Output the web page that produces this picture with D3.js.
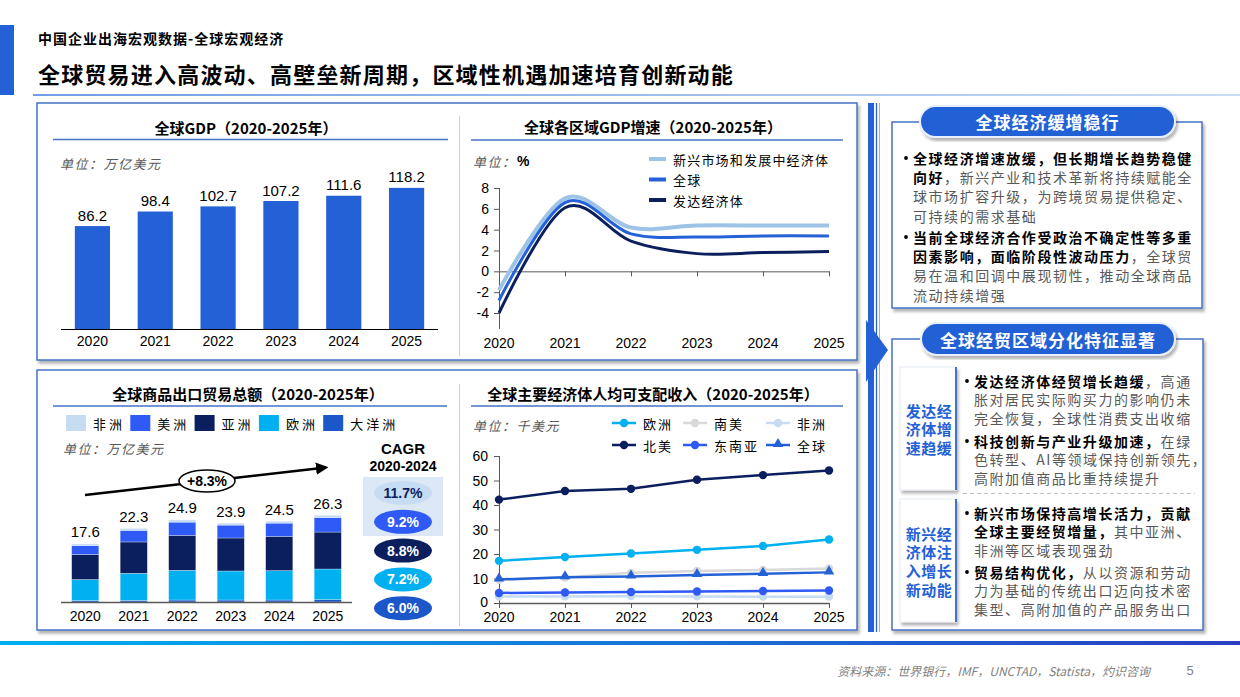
<!DOCTYPE html>
<html>
<head>
<meta charset="utf-8">
<script src="https://cdn.jsdelivr.net/npm/d3@7"></script>
<style>
	body { margin: 0; background: #fff; }
	svg { display: block; font-family: "Noto Sans CJK SC", "Liberation Sans", sans-serif; }
</style>
</head>
<body>
<div id="chart"></div>
<script>
/* global d3 */

// Data
var years = ['2020', '2021', '2022', '2023', '2024', '2025'];

var gdpValues = [86.2, 98.4, 102.7, 107.2, 111.6, 118.2];

var growthLabels = ['新兴市场和发展中经济体', '全球', '发达经济体'];
var growthEmerging = [-1.8, 7.0, 4.2, 4.4, 4.4, 4.4];
var growthGlobal = [-2.8, 6.6, 3.6, 3.3, 3.4, 3.4];
var growthAdvanced = [-4.0, 6.1, 2.9, 1.7, 1.8, 1.9];
var growthTicks = [-4, -2, 0, 2, 4, 6, 8];

var tradeKeys = ['africa', 'americas', 'asia', 'europe', 'oceania'];
var tradeLabels = ['非洲', '美洲', '亚洲', '欧洲', '大洋洲'];
var tradeAfrica = [0.5, 0.6, 0.7, 0.6, 0.6, 0.7];
var tradeAmericas = [2.7, 3.5, 4.0, 3.9, 4.0, 4.4];
var tradeAsia = [7.6, 9.5, 10.6, 10.0, 10.4, 11.2];
var tradeEurope = [6.4, 8.2, 9.0, 8.8, 8.9, 9.3];
var tradeOceania = [0.4, 0.5, 0.6, 0.6, 0.6, 0.7];
var tradeTotals = [17.6, 22.3, 24.9, 23.9, 24.5, 26.3];
var tradeCagr = ['11.7%', '9.2%', '8.8%', '7.2%', '6.0%'];
var tradeTrend = '+8.3%';

var incomeLabels = ['欧洲', '南美', '非洲', '北美', '东南亚', '全球'];
var incomeEurope = [17.2, 18.8, 20.2, 21.7, 23.3, 25.9];
var incomeSouthAmerica = [9.5, 10.4, 12.3, 13.1, 13.5, 14.1];
var incomeAfrica = [2.7, 2.7, 2.8, 2.7, 2.6, 2.6];
var incomeNorthAmerica = [42.2, 45.7, 46.6, 50.3, 52.2, 54.1];
var incomeSeAsia = [4.1, 4.3, 4.5, 4.7, 4.9, 5.1];
var incomeGlobal = [9.6, 10.5, 10.8, 11.4, 11.9, 12.5];
var incomeTicks = [0, 10, 20, 30, 40, 50, 60];

var box1Text = [
	{ y: 158, lines: [
		[['全球经济增速放缓，但长期增长趋势稳健', true]],
		[['向好', true], ['，新兴产业和技术革新将持续赋能全', false]],
		[['球市场扩容升级，为跨境贸易提供稳定、', false]],
		[['可持续的需求基础', false]]
	] },
	{ y: 237, lines: [
		[['当前全球经济合作受政治不确定性等多重', true]],
		[['因素影响，面临阶段性波动压力', true], ['，全球贸', false]],
		[['易在温和回调中展现韧性，推动全球商品', false]],
		[['流动持续增强', false]]
	] }
];

var box2Text = [
	{ y: 381, lines: [
		[['发达经济体经贸增长趋缓', true], ['，高通', false]],
		[['胀对居民实际购买力的影响仍未', false]],
		[['完全恢复，全球性消费支出收缩', false]]
	] },
	{ y: 441, lines: [
		[['科技创新与产业升级加速，', true], ['在绿', false]],
		[['色转型、AI等领域保持创新领先，', false]],
		[['高附加值商品比重持续提升', false]]
	] },
	{ y: 513, lines: [
		[['新兴市场保持高增长活力，贡献', true]],
		[['全球主要经贸增量，', true], ['其中亚洲、', false]],
		[['非洲等区域表现强劲', false]]
	] },
	{ y: 572, lines: [
		[['贸易结构优化，', true], ['从以资源和劳动', false]],
		[['力为基础的传统出口迈向技术密', false]],
		[['集型、高附加值的产品服务出口', false]]
	] }
];

var sideLabels = [
	{ y: 410, lines: ['发达经', '济体增', '速趋缓'] },
	{ y: 533, lines: ['新兴经', '济体注', '入增长', '新动能'] }
];

// Styles
var col = {
	blue: '#2461d6',
	navy: '#0b1f5e',
	sky: '#9dc3e6',
	cyan: '#00b0f0',
	bright: '#2f5af5',
	pale: '#c5dcf2',
	gray: '#d9d9d9',
	ocean: '#1c57c9',
	frame: '#4472c4',
	axis: '#595959',
	text: '#595959'
};
var numFont = '"Liberation Sans", Arial, sans-serif';

var svg = d3.select('#chart').append('svg')
	.attr('width', 1240)
	.attr('height', 697);

var defs = svg.append('defs');
defs.append('filter')
	.attr('id', 'shadow')
	.attr('x', '-10%').attr('y', '-10%')
	.attr('width', '125%').attr('height', '125%')
	.append('feDropShadow')
	.attr('dx', 2).attr('dy', 3)
	.attr('stdDeviation', 1.5)
	.attr('flood-color', '#000')
	.attr('flood-opacity', 0.3);

var gHead = defs.append('linearGradient').attr('id', 'headLine');
gHead.append('stop').attr('offset', '0%').attr('stop-color', '#6f9ee8');
gHead.append('stop').attr('offset', '100%').attr('stop-color', '#c9dbf4');

var gFoot = defs.append('linearGradient').attr('id', 'footLine');
gFoot.append('stop').attr('offset', '0%').attr('stop-color', '#00b0f0');
gFoot.append('stop').attr('offset', '100%').attr('stop-color', '#2b3ec2');

defs.append('marker')
	.attr('id', 'arrowHead')
	.attr('viewBox', '0 0 10 10')
	.attr('refX', 8).attr('refY', 5)
	.attr('markerWidth', 5).attr('markerHeight', 5)
	.attr('orient', 'auto')
	.append('path')
	.attr('d', 'M0,0 L10,5 L0,10 z')
	.attr('fill', '#000');

function label(g, x, y, str, o) {
	o = o || {};
	return g.append('text')
		.attr('x', x)
		.attr('y', y)
		.attr('dominant-baseline', 'central')
		.attr('text-anchor', o.anchor || 'start')
		.attr('font-size', o.size || 14)
		.attr('font-weight', o.weight || 'normal')
		.attr('font-style', o.style || 'normal')
		.attr('font-family', o.family || null)
		.attr('letter-spacing', o.ls || 0)
		.attr('fill', o.fill || '#000')
		.text(str);
}

function panelTitle(cx, cy, str, x1, x2, lineY) {
	label(svg, cx, cy, str, { anchor: 'middle', size: 15, weight: 'bold' });
	svg.append('line')
		.attr('x1', x1).attr('x2', x2)
		.attr('y1', lineY).attr('y2', lineY)
		.attr('stroke', col.frame)
		.attr('stroke-width', 1.5);
}

function unitLabel(x, y, str) {
	label(svg, x, y, str, { size: 13, style: 'italic', fill: '#595959', ls: 1.5 });
}

// Header
svg.append('rect').attr('x', 0).attr('y', 25).attr('width', 14).attr('height', 70).attr('fill', col.blue);
label(svg, 38, 38, '中国企业出海宏观数据-全球宏观经济', { size: 14, weight: 'bold', ls: 1 });
label(svg, 38, 73, '全球贸易进入高波动、高壁垒新周期，区域性机遇加速培育创新动能', { size: 22, weight: 'bold', ls: 1.2 });
svg.append('rect').attr('x', 33).attr('y', 94).attr('width', 1207).attr('height', 2).attr('fill', 'url(#headLine)');

// Panel frames
[[37, 103, 820, 257], [37, 370, 820, 260]].forEach(function(p) {
	svg.append('rect')
		.attr('x', p[0]).attr('y', p[1])
		.attr('width', p[2]).attr('height', p[3])
		.attr('fill', '#fff')
		.attr('stroke', col.frame)
		.attr('stroke-width', 1.5)
		.attr('filter', 'url(#shadow)');
});
[[116, 356], [384, 626]].forEach(function(s) {
	svg.append('line')
		.attr('x1', 459.5).attr('x2', 459.5)
		.attr('y1', s[0]).attr('y2', s[1])
		.attr('stroke', '#d0d0d0');
});

// ---- Global GDP bars
panelTitle(246, 127, '全球GDP（2020-2025年）', 53, 448, 139.5);
unitLabel(60, 163, '单位：万亿美元');

var gdpX = d3.scaleBand().domain(years).range([61, 438]).paddingInner(0.44).paddingOuter(0.22);
var gdpY = d3.scaleLinear().domain([0, 140]).range([329, 329 - 140 * 1.194]);
var gGdp = svg.append('g');

gGdp.selectAll('rect').data(gdpValues).enter().append('rect')
	.attr('x', function(d, i) { return gdpX(years[i]); })
	.attr('y', function(d) { return gdpY(d); })
	.attr('width', gdpX.bandwidth())
	.attr('height', function(d) { return gdpY(0) - gdpY(d); })
	.attr('fill', col.blue);

gGdp.selectAll('text.val').data(gdpValues).enter().append('text')
	.attr('class', 'val')
	.attr('x', function(d, i) { return gdpX(years[i]) + gdpX.bandwidth() / 2; })
	.attr('y', function(d) { return gdpY(d) - 11; })
	.attr('dominant-baseline', 'central')
	.attr('text-anchor', 'middle')
	.attr('font-family', numFont)
	.attr('font-size', 15)
	.text(function(d) { return d.toFixed(1); });

gGdp.append('line')
	.attr('x1', 61).attr('x2', 438)
	.attr('y1', gdpY(0) + 0.5).attr('y2', gdpY(0) + 0.5)
	.attr('stroke', '#000');

years.forEach(function(y) {
	label(gGdp, gdpX(y) + gdpX.bandwidth() / 2, 341, y, { anchor: 'middle', family: numFont, size: 14 });
});

// ---- GDP growth lines
panelTitle(653, 126, '全球各区域GDP增速（2020-2025年）', 471, 843, 140);
unitLabel(473, 161, '单位：');
label(svg, 517, 161, '%', { size: 14, family: numFont, weight: 'bold' });

var grX = d3.scalePoint().domain(years).range([499, 829]);
var grY = d3.scaleLinear().domain([-4, 8]).range([313, 188]);
var gGrowth = svg.append('g');

gGrowth.append('line')
	.attr('x1', 499.5).attr('x2', 499.5)
	.attr('y1', grY(8)).attr('y2', 329)
	.attr('stroke', col.axis);
growthTicks.forEach(function(t) {
	gGrowth.append('line')
		.attr('x1', 494).attr('x2', 499.5)
		.attr('y1', grY(t) + 0.5).attr('y2', grY(t) + 0.5)
		.attr('stroke', col.axis);
	label(gGrowth, 489, grY(t), String(t), { anchor: 'end', family: numFont, size: 14 });
});
gGrowth.append('line')
	.attr('x1', 499).attr('x2', 829.5)
	.attr('y1', grY(0) + 0.5).attr('y2', grY(0) + 0.5)
	.attr('stroke', col.axis);
years.forEach(function(y) {
	gGrowth.append('line')
		.attr('x1', grX(y) + 0.5).attr('x2', grX(y) + 0.5)
		.attr('y1', grY(0)).attr('y2', grY(0) + 5)
		.attr('stroke', col.axis);
	label(gGrowth, grX(y), 343, y, { anchor: 'middle', family: numFont, size: 14 });
});

var growthLine = d3.line()
	.x(function(d, i) { return grX(years[i]); })
	.y(function(d) { return grY(d); })
	.curve(d3.curveCatmullRom.alpha(0));

[[growthEmerging, col.sky, 4], [growthGlobal, col.blue, 3], [growthAdvanced, col.navy, 3]].forEach(function(s, i) {
	gGrowth.append('path')
		.attr('d', growthLine(s[0]))
		.attr('fill', 'none')
		.attr('stroke', s[1])
		.attr('stroke-width', s[2]);
	var ly = 159 + i * 20.5;
	gGrowth.append('line')
		.attr('x1', 649).attr('x2', 666)
		.attr('y1', ly).attr('y2', ly)
		.attr('stroke', s[1])
		.attr('stroke-width', 4);
	label(gGrowth, 673, ly, growthLabels[i], { size: 13, ls: 1.2 });
});

// ---- Trade stacked bars
panelTitle(248, 393, '全球商品出口贸易总额（2020-2025年）', 53, 447, 406);

var tradeColors = d3.scaleOrdinal()
	.domain(tradeKeys)
	.range([col.pale, col.bright, col.navy, col.cyan, col.ocean]);

tradeKeys.forEach(function(k, i) {
	var lx = 66 + i * 64.3;
	svg.append('rect')
		.attr('x', lx).attr('y', 415)
		.attr('width', 20).attr('height', 16)
		.attr('fill', tradeColors(k));
	label(svg, lx + 27, 423, tradeLabels[i], { size: 13, ls: 3 });
});
unitLabel(63, 448, '单位：万亿美元');

var tradeRows = years.map(function(y, i) {
	return {
		year: y,
		africa: tradeAfrica[i],
		americas: tradeAmericas[i],
		asia: tradeAsia[i],
		europe: tradeEurope[i],
		oceania: tradeOceania[i]
	};
});
var tradeSeries = d3.stack().keys(['oceania', 'europe', 'asia', 'americas', 'africa'])(tradeRows);

var trX = d3.scaleBand().domain(years).range([61, 352]).paddingInner(0.44).paddingOuter(0.22);
var trY = d3.scaleLinear().domain([0, 30]).range([602, 503]);
var gTrade = svg.append('g');

gTrade.selectAll('g.series').data(tradeSeries).enter().append('g')
	.attr('class', 'series')
	.attr('fill', function(d) { return tradeColors(d.key); })
	.selectAll('rect').data(function(d) { return d; }).enter().append('rect')
	.attr('x', function(d) { return trX(d.data.year); })
	.attr('y', function(d) { return trY(d[1]); })
	.attr('width', trX.bandwidth())
	.attr('height', function(d) { return trY(d[0]) - trY(d[1]); })
	.attr('stroke', '#fff')
	.attr('stroke-opacity', 0.5)
	.attr('stroke-width', 0.6);

tradeTotals.forEach(function(v, i) {
	label(gTrade, trX(years[i]) + trX.bandwidth() / 2, trY(v) - 12, v.toFixed(1), { anchor: 'middle', family: numFont, size: 15 });
	label(gTrade, trX(years[i]) + trX.bandwidth() / 2, 616, years[i], { anchor: 'middle', family: numFont, size: 14 });
});
gTrade.append('line')
	.attr('x1', 61).attr('x2', 352)
	.attr('y1', trY(0) + 0.5).attr('y2', trY(0) + 0.5)
	.attr('stroke', col.axis)
	.attr('stroke-width', 1.5);

// trend arrow
gTrade.append('line')
	.attr('x1', 85).attr('y1', 495)
	.attr('x2', 326).attr('y2', 467.5)
	.attr('stroke', '#000')
	.attr('stroke-width', 2.5)
	.attr('marker-end', 'url(#arrowHead)');
gTrade.append('ellipse')
	.attr('cx', 207).attr('cy', 481)
	.attr('rx', 28).attr('ry', 11)
	.attr('fill', '#fff')
	.attr('stroke', '#000')
	.attr('stroke-width', 1.5);
label(gTrade, 207, 481, tradeTrend, { anchor: 'middle', family: numFont, size: 14, weight: 'bold' });

// CAGR column
label(gTrade, 403, 448, 'CAGR', { anchor: 'middle', family: numFont, size: 15, weight: 'bold' });
label(gTrade, 403, 466, '2020-2024', { anchor: 'middle', family: numFont, size: 14, weight: 'bold' });
gTrade.append('rect')
	.attr('x', 363).attr('y', 477)
	.attr('width', 80).attr('height', 59)
	.attr('fill', '#dce8f6');
tradeCagr.forEach(function(c, i) {
	var cy = 493 + i * 28.8;
	gTrade.append('ellipse')
		.attr('cx', 403).attr('cy', cy)
		.attr('rx', 29).attr('ry', 12)
		.attr('fill', tradeColors(tradeKeys[i]));
	label(gTrade, 403, cy, c, {
		anchor: 'middle', family: numFont, size: 14, weight: 'bold',
		fill: i === 0 ? '#0b1f5e' : '#fff'
	});
});

// ---- Disposable income lines
panelTitle(653, 393, '全球主要经济体人均可支配收入（2020-2025年）', 471, 843, 406);
unitLabel(473, 425, '单位：千美元');

var inX = d3.scalePoint().domain(years).range([499, 829]);
var inY = d3.scaleLinear().domain([0, 60]).range([603, 456]);
var gIncome = svg.append('g');

gIncome.append('line')
	.attr('x1', 499.5).attr('x2', 499.5)
	.attr('y1', inY(60)).attr('y2', inY(0))
	.attr('stroke', col.axis);
incomeTicks.forEach(function(t) {
	gIncome.append('line')
		.attr('x1', 494).attr('x2', 499.5)
		.attr('y1', inY(t) + 0.5).attr('y2', inY(t) + 0.5)
		.attr('stroke', col.axis);
	label(gIncome, 488, inY(t) - (t === 0 ? 1.5 : 0), String(t), { anchor: 'end', family: numFont, size: 14 });
});
gIncome.append('line')
	.attr('x1', 499).attr('x2', 829.5)
	.attr('y1', inY(0) + 0.5).attr('y2', inY(0) + 0.5)
	.attr('stroke', col.axis)
	.attr('stroke-width', 1.5);
years.forEach(function(y) {
	gIncome.append('line')
		.attr('x1', inX(y) + 0.5).attr('x2', inX(y) + 0.5)
		.attr('y1', inY(0)).attr('y2', inY(0) + 5)
		.attr('stroke', col.axis);
	label(gIncome, inX(y), 617, y, { anchor: 'middle', family: numFont, size: 14 });
});

var incomeSeries = [
	{ name: incomeLabels[2], values: incomeAfrica, color: col.pale, mark: 'circle' },
	{ name: incomeLabels[1], values: incomeSouthAmerica, color: col.gray, mark: 'circle' },
	{ name: incomeLabels[4], values: incomeSeAsia, color: col.bright, mark: 'circle' },
	{ name: incomeLabels[5], values: incomeGlobal, color: col.blue, mark: 'triangle' },
	{ name: incomeLabels[0], values: incomeEurope, color: col.cyan, mark: 'circle' },
	{ name: incomeLabels[3], values: incomeNorthAmerica, color: col.navy, mark: 'circle' }
];
var incomeLine = d3.line()
	.x(function(d, i) { return inX(years[i]); })
	.y(function(d) { return inY(d); });
var triangle = d3.symbol().type(d3.symbolTriangle).size(48);

function drawMark(g, s, x, y) {
	if (s.mark === 'triangle') {
		g.append('path')
			.attr('d', triangle())
			.attr('transform', 'translate(' + x + ',' + (y - 1) + ')')
			.attr('fill', s.color);
	} else {
		g.append('circle')
			.attr('cx', x).attr('cy', y)
			.attr('r', 4.2)
			.attr('fill', s.color);
	}
}

incomeSeries.forEach(function(s) {
	gIncome.append('path')
		.attr('d', incomeLine(s.values))
		.attr('fill', 'none')
		.attr('stroke', s.color)
		.attr('stroke-width', 2.5);
	s.values.forEach(function(v, i) {
		drawMark(gIncome, s, inX(years[i]), inY(v));
	});
});

// legend: two rows, three columns in label order
var legendCols = [612, 683, 766];
incomeLabels.forEach(function(name, i) {
	var s = incomeSeries.filter(function(d) { return d.name === name; })[0];
	var lx = legendCols[i % 3];
	var ly = i < 3 ? 423 : 445;
	gIncome.append('line')
		.attr('x1', lx).attr('x2', lx + 24)
		.attr('y1', ly).attr('y2', ly)
		.attr('stroke', s.color)
		.attr('stroke-width', 2.5);
	drawMark(gIncome, s, lx + 12, ly);
	label(gIncome, lx + 31, ly, name, { size: 13, ls: 2 });
});

// ---- Right column
svg.append('rect').attr('x', 868).attr('y', 103).attr('width', 6).attr('height', 529).attr('fill', col.blue);
svg.append('line').attr('x1', 876.5).attr('x2', 876.5).attr('y1', 103).attr('y2', 632)
	.attr('stroke', col.blue).attr('stroke-width', 1.3);
svg.append('line').attr('x1', 879.5).attr('x2', 879.5).attr('y1', 103).attr('y2', 632)
	.attr('stroke', '#8fb0ea').attr('stroke-width', 1);
svg.append('path').attr('d', 'M866,320 L888,350 L866,382 Z').attr('fill', col.blue);

function box(x, y, w, h) {
	svg.append('rect')
		.attr('x', x).attr('y', y)
		.attr('width', w).attr('height', h)
		.attr('fill', '#fff')
		.attr('stroke', col.frame)
		.attr('stroke-width', 1.5)
		.attr('filter', 'url(#shadow)');
}

function pill(x, y, w, h, str, ls) {
	svg.append('rect')
		.attr('x', x).attr('y', y)
		.attr('width', w).attr('height', h)
		.attr('rx', h / 2)
		.attr('fill', col.blue)
		.attr('stroke', '#e8eefb')
		.attr('stroke-width', 2)
		.attr('filter', 'url(#shadow)');
	label(svg, x + w / 2, y + h / 2, str, { anchor: 'middle', size: 17, weight: 'bold', fill: '#fff', ls: ls });
}

function bullets(groups, dotX, textX, step) {
	groups.forEach(function(gr) {
		svg.append('circle')
			.attr('cx', dotX).attr('cy', gr.y)
			.attr('r', 1.9)
			.attr('fill', '#000');
		gr.lines.forEach(function(line, li) {
			var t = svg.append('text')
				.attr('x', textX)
				.attr('y', gr.y + li * step)
				.attr('dominant-baseline', 'central')
				.attr('font-size', 14)
				.attr('letter-spacing', 1.55);
			line.forEach(function(seg) {
				t.append('tspan')
					.attr('font-weight', seg[1] ? 'bold' : 'normal')
					.attr('fill', seg[1] ? '#000' : col.text)
					.text(seg[0]);
			});
		});
	});
}

box(892, 122, 310, 186);
pill(920, 106, 255, 31, '全球经济缓增稳行', 1);
bullets(box1Text, 906, 913, 19.2);

box(892, 339, 311, 291);
pill(921, 323, 254, 32, '全球经贸区域分化特征显著', 1);

[[367, 123], [499, 123]].forEach(function(b) {
	svg.append('rect')
		.attr('x', 900).attr('y', b[0])
		.attr('width', 56).attr('height', b[1])
		.attr('fill', '#fff')
		.attr('stroke', '#e4e9f2')
		.attr('filter', 'url(#shadow)');
	svg.append('line')
		.attr('x1', 956).attr('x2', 956)
		.attr('y1', b[0]).attr('y2', b[0] + b[1])
		.attr('stroke', col.frame)
		.attr('stroke-width', 2);
});
sideLabels.forEach(function(s) {
	s.lines.forEach(function(str, i) {
		label(svg, 929, s.y + i * 18.7, str, { anchor: 'middle', size: 15, weight: 'bold', fill: col.blue, ls: 0.5 });
	});
});

bullets(box2Text, 967, 974, 18.3);
svg.append('line')
	.attr('x1', 963).attr('x2', 1195)
	.attr('y1', 493.5).attr('y2', 493.5)
	.attr('stroke', '#bfbfbf')
	.attr('stroke-dasharray', '4,3');

// Footer
svg.append('rect').attr('x', 0).attr('y', 641).attr('width', 1240).attr('height', 4).attr('fill', 'url(#footLine)');
label(svg, 1150, 670, '资料来源：世界银行，IMF，UNCTAD，Statista，灼识咨询', { anchor: 'end', size: 12, style: 'italic', fill: '#7f7f7f' });
label(svg, 1190, 670, '5', { anchor: 'middle', size: 13, family: numFont, fill: '#7f7f7f' });
</script>
</body>
</html>
